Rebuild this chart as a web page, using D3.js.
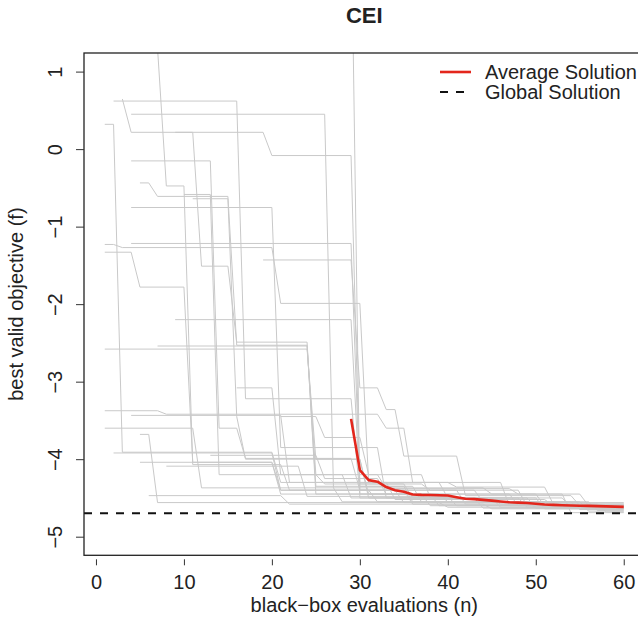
<!DOCTYPE html>
<html>
<head>
<meta charset="utf-8">
<script src="https://cdn.jsdelivr.net/npm/d3@7"></script>
<style>
    body { margin: 0; background: #fff; }
    text { font-family: "Liberation Sans", Arial, sans-serif; fill: #222; }
</style>
</head>
<body>
<div id="chart"></div>
<script>
// tick labels
const xTicks = [0, 10, 20, 30, 40, 50, 60];
const yTicks = [-5, -4, -3, -2, -1, 0, 1];

// average of all runs, n = 29 .. 60
const avgStart = 29;
const avgValues = [-3.48, -4.14, -4.27, -4.29, -4.36, -4.40, -4.42, -4.455, -4.46, -4.462,
    -4.465, -4.468, -4.49, -4.51, -4.515, -4.525, -4.535, -4.545, -4.555, -4.56,
    -4.565, -4.575, -4.585, -4.59, -4.595, -4.598, -4.60, -4.603, -4.606, -4.609,
    -4.612, -4.615];

// best known objective
const globalValue = -4.698;

// each run: [evaluation where best value changes, new best value]
const runs = [
    [[2, 0.62], [17, -3.22], [30, -4.45], [40, -4.55], [52, -4.62]],
    [[3, 0.647], [4, 0.217], [20, -0.083], [30, -4.32], [36, -4.5], [46, -4.58]],
    [[4, 0.45], [27, -4.37], [45, -4.45], [56, -4.6]],
    [[1, 0.32], [3, -3.91], [21, -4.3], [41, -4.36], [52, -4.58]],
    [[9, 0.217], [12, -1.51], [16, -2.49], [25, -4.45], [38, -4.6]],
    [[4, -0.152], [14, -3.6], [17, -3.99], [30, -4.4], [42, -4.58]],
    [[7, 1.3], [8, -0.475], [11, -4.07], [22, -4.4], [32, -4.55], [50, -4.63]],
    [[10, -0.585], [14, -4.2], [26, -4.32], [38, -4.4], [49, -4.6]],
    [[11, -0.64], [16, -3.45], [17, -4.0], [31, -4.45], [48, -4.6]],
    [[5, -0.436], [7, -0.61], [16, -2.53], [25, -4.35], [37, -4.55], [55, -4.65]],
    [[4, -0.753], [21, -3.85], [33, -4.5], [51, -4.64]],
    [[4, -1.217], [30, -4.35], [36, -4.55], [57, -4.66]],
    [[1, -1.23], [3, -1.27], [21, -1.99], [31, -4.3], [40, -4.5], [54, -4.62]],
    [[1, -1.33], [5, -1.78], [11, -4.04], [21, -4.4], [35, -4.56]],
    [[19, -1.43], [30, -3.08], [33, -3.36], [35, -3.96], [42, -4.47], [55, -4.6]],
    [[29, 3.2], [30, -4.5], [46, -4.62]],
    [[1, -3.375], [8, -3.42], [33, -3.6], [36, -4.3], [47, -4.6]],
    [[4, -3.435], [22, -4.3], [34, -4.52], [52, -4.6]],
    [[1, -3.6], [12, -4.37], [28, -4.55], [56, -4.67]],
    [[5, -3.68], [7, -4.56], [40, -4.62]],
    [[5, -4.04], [21, -4.45], [39, -4.6]],
    [[2, -3.92], [21, -4.4], [36, -4.58], [58, -4.68]],
    [[6, -4.47], [22, -4.58], [45, -4.64]],
    [[8, -4.09], [24, -4.48], [41, -4.6]],
    [[9, -2.2], [30, -4.4], [44, -4.55], [53, -4.6]],
    [[7, -2.54], [25, -4.2], [33, -4.38], [48, -4.45], [51, -4.6]],
    [[1, -2.58], [25, -4.0], [31, -4.5], [50, -4.62]],
    [[16, -3.08], [21, -4.2], [29, -4.5], [44, -4.63]],
    [[13, -3.95], [26, -4.25], [33, -4.45], [54, -4.69]],
    [[21, -3.45], [26, -3.72], [31, -4.2], [38, -4.5], [49, -4.62]]
];
const lastEval = 60;

const legendItems = [
    {key: "Average Solution", color: "#e3261c", dash: null},
    {key: "Global Solution", color: "#111", dash: "8,8"}
];

class ConvergencePlot {
    constructor(parentElement) {
        this.parentElement = parentElement;
        this.initVis();
    }

    initVis() {
        let vis = this;

        vis.width = 638;
        vis.height = 636;
        // plot region (right edge runs past the picture, as in the original)
        vis.plot = {left: 84, top: 53, right: 644.5, bottom: 555.3};

        vis.svg = d3.select("#" + vis.parentElement).append("svg")
            .attr("width", vis.width)
            .attr("height", vis.height);

        // R style 4% padding round the data range
        vis.x = d3.scaleLinear()
            .domain([1 - 0.04 * 59, 60 + 0.04 * 59])
            .range([vis.plot.left, vis.plot.right]);
        vis.y = d3.scaleLinear()
            .domain([-5 - 0.24, 1 + 0.24])
            .range([vis.plot.bottom, vis.plot.top]);

        vis.svg.append("clipPath").attr("id", "plotClip")
            .append("rect")
            .attr("x", vis.plot.left)
            .attr("y", vis.plot.top)
            .attr("width", vis.plot.right - vis.plot.left)
            .attr("height", vis.plot.bottom - vis.plot.top);

        vis.lines = vis.svg.append("g").attr("clip-path", "url(#plotClip)");

        // step path for one run
        vis.stepPoints = function(steps) {
            let pts = [];
            steps.forEach((s, i) => {
                pts.push([s[0], s[1]]);
                let until = i < steps.length - 1 ? steps[i + 1][0] - 1 : lastEval;
                if (until > s[0]) pts.push([until, s[1]]);
            });
            return pts;
        };

        vis.line = d3.line()
            .x(d => vis.x(d[0]))
            .y(d => vis.y(d[1]));

        vis.lines.selectAll(".run")
            .data(runs)
            .enter().append("path")
            .attr("class", "run")
            .attr("d", d => vis.line(vis.stepPoints(d)))
            .attr("fill", "none")
            .attr("stroke", "#c9c9c9")
            .attr("stroke-width", 1);

        // global solution
        vis.lines.append("line")
            .attr("x1", vis.plot.left)
            .attr("x2", vis.plot.right)
            .attr("y1", vis.y(globalValue))
            .attr("y2", vis.y(globalValue))
            .attr("stroke", "#111")
            .attr("stroke-width", 2)
            .attr("stroke-dasharray", "8,8");

        // average
        vis.lines.append("path")
            .datum(avgValues.map((v, i) => [avgStart + i, v]))
            .attr("d", vis.line)
            .attr("fill", "none")
            .attr("stroke", "#e3261c")
            .attr("stroke-width", 2.6)
            .attr("stroke-linejoin", "round");

        // box
        vis.svg.append("rect")
            .attr("x", vis.plot.left)
            .attr("y", vis.plot.top)
            .attr("width", vis.plot.right - vis.plot.left)
            .attr("height", vis.plot.bottom - vis.plot.top)
            .attr("fill", "none")
            .attr("stroke", "#222")
            .attr("stroke-width", 1.3);

        // x axis
        vis.xAxisGroup = vis.svg.append("g")
            .attr("class", "x-axis axis")
            .attr("transform", "translate(0," + (vis.plot.bottom + 4) + ")")
            .call(d3.axisBottom(vis.x).tickValues(xTicks).tickSize(6).tickPadding(10));
        vis.xAxisGroup.select(".domain").remove();
        vis.xAxisGroup.selectAll(".tick line").attr("stroke", "#333");
        vis.xAxisGroup.selectAll(".tick text")
            .style("font-size", "20px")
            .attr("fill", "#222");

        // y axis, labels turned like R
        vis.yAxisGroup = vis.svg.append("g")
            .attr("class", "y-axis axis")
            .attr("transform", "translate(" + vis.plot.left + ",0)")
            .call(d3.axisLeft(vis.y).tickValues(yTicks).tickSize(8)
                .tickFormat(d => d < 0 ? "\u2212" + Math.abs(d) : d));
        vis.yAxisGroup.select(".domain").remove();
        vis.yAxisGroup.selectAll(".tick line").attr("stroke", "#333");
        vis.yAxisGroup.selectAll(".tick text")
            .style("font-size", "20px")
            .attr("fill", "#222")
            .attr("x", null).attr("dy", null)
            .attr("text-anchor", "middle")
            .attr("transform", "translate(-22,0) rotate(-90)");

        // titles
        vis.svg.append("text")
            .attr("x", (vis.plot.left + vis.plot.right) / 2)
            .attr("y", 23)
            .attr("text-anchor", "middle")
            .style("font-size", "22px")
            .style("font-weight", "bold")
            .text("CEI");

        vis.svg.append("text")
            .attr("x", (vis.plot.left + vis.plot.right) / 2)
            .attr("y", 612)
            .attr("text-anchor", "middle")
            .style("font-size", "20px")
            .text("black\u2212box evaluations (n)");

        vis.svg.append("text")
            .attr("transform", "translate(23," + ((vis.plot.top + vis.plot.bottom) / 2) + ") rotate(-90)")
            .attr("text-anchor", "middle")
            .style("font-size", "20px")
            .text("best valid objective (f)");

        // legend
        vis.legend = vis.svg.selectAll(".legend")
            .data(legendItems)
            .enter().append("g")
            .attr("class", "legend")
            .attr("transform", (d, i) => "translate(440," + (72 + 20 * i) + ")");
        vis.legend.append("line")
            .attr("x1", 0).attr("x2", 31)
            .attr("stroke", d => d.color)
            .attr("stroke-width", (d, i) => i == 0 ? 2.6 : 2)
            .attr("stroke-dasharray", d => d.dash);
        vis.legend.append("text")
            .attr("x", 45)
            .attr("y", 7)
            .style("font-size", "20px")
            .text(d => d.key);
    }
}

new ConvergencePlot("chart");
</script>
</body>
</html>
